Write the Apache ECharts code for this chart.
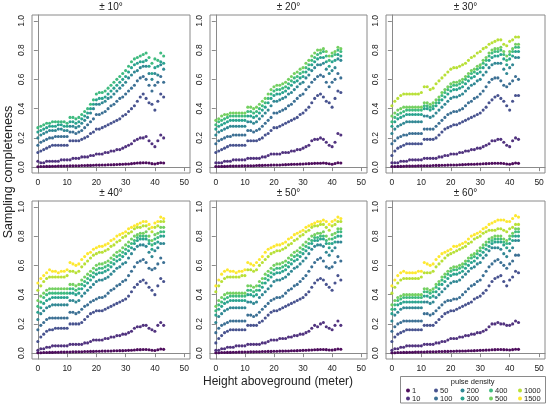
<!DOCTYPE html>
<html><head><meta charset="utf-8">
<script src="https://cdn.jsdelivr.net/npm/echarts@6/dist/echarts.min.js"></script>
<style>html,body{margin:0;padding:0;background:#fff}#c{width:550px;height:408px}</style>
</head><body><div id="c"></div>
<script>
const heights = [0,1,2,3,4,5,6,7,8,9,10,11,12,13,14,15,16,17,18,19,20,21,22,23,24,25,26,27,28,29,30,31,32,33,34,35,36,37,38,39,40,41,42,43];
const densities = ['1','10','50','100','200','300','400','500','1000','1500'];
const densityColors = ['#440154','#482878','#3E4A89','#31688E','#26828E','#1F9E89','#35B779','#6DCD59','#B4DE2C','#FDE725'];
const panelTitles = ['± 10°','± 20°','± 30°','± 40°','± 50°','± 60°'];
const xTicks = [0,10,20,30,40,50];
const yTicks = [0,0.2,0.4,0.6,0.8,1.0];

// sampling completeness in percent, per scan angle and pulse density
const a10_1 = [0.3,0.4,0.4,0.5,0.5,0.6,0.6,0.7,0.7,0.8,0.8,0.9,0.9,1,1,1.1,1.1,1.2,1.2,1.3,1.4,1.4,1.5,1.5,1.6,1.6,1.7,1.8,1.9,2,2.1,2.2,2.4,2.6,2.8,2.9,3,3,2.8,2.4,2.2,2.6,3,2.8];
const a10_10 = [4,3,3,4,4,4,4,4,5,5,5,5,6,6,6,7,7,7,8,8,9,9,9,10,10,11,11,12,12,13,14,15,16,18,19,20,20,21,18,16,14,18,22,20];
const a10_50 = [10,11,12,13,14,15,15,15,15,15,15,18,18,18,18,19,20,21,23,24,26,26,27,28,29,30,31,32,33,35,36,38,40,42,45,48,50,47,44,43,39,45,50,48];
const a10_100 = [15,17,18,19,20,20,21,21,21,21,21,24,24,23,24,25,27,29,31,33,36,36,37,38,40,42,43,45,47,48,50,52,54,56,59,61,62,60,56,52,56,58,62,58];
const a10_200 = [20,22,23,24,25,25,25,26,26,25,25,28,28,27,28,30,32,34,37,40,43,43,44,45,47,48,50,52,54,56,58,61,63,65,66,68,69,69,64,60,64,63,70,67];
const a10_300 = [24,25,26,27,28,28,28,29,29,28,28,31,31,30,31,33,35,37,40,43,46,47,47,48,50,52,54,56,58,60,62,65,68,70,71,72,72,73,69,64,68,69,72,71];
const a10_400 = [27,28,29,30,30,31,31,31,31,31,30,34,34,33,34,36,38,40,43,46,50,51,51,52,54,56,58,60,62,64,66,69,72,74,75,76,77,78,75,71,74,73,78,76];

const a20_1 = [0.4,0.4,0.5,0.5,0.6,0.7,0.7,0.8,0.8,0.9,0.9,1,1,1,1.1,1.2,1.2,1.3,1.3,1.4,1.5,1.5,1.5,1.6,1.7,1.8,1.9,2,2,2.1,2.2,2.3,2.4,2.5,2.6,2.7,2.7,2.8,2.6,2.3,2,2.5,3,2.8];
const a20_10 = [3,3,3,4,4,4,5,5,5,5,5,6,6,6,6,6,7,7,8,9,9,9,9,10,10,10,11,11,12,12,13,14,15,18,19,19,20,19,17,15,14,17,23,22];
const a20_50 = [10,11,12,13,14,15,15,15,15,15,15,18,18,18,18,19,20,22,23,25,27,27,28,29,30,31,32,33,34,36,37,39,41,44,47,49,50,48,45,44,41,47,52,51];
const a20_100 = [16,18,19,20,21,21,22,22,22,22,22,25,25,24,25,26,28,30,32,34,37,37,38,39,40,42,43,45,47,49,50,53,55,58,60,62,63,62,58,55,58,60,64,61];
const a20_200 = [22,24,25,26,27,28,28,28,28,28,28,31,31,30,31,33,35,37,39,42,45,45,46,47,48,50,51,53,55,57,58,61,63,66,68,70,70,71,67,64,66,68,74,73];
const a20_300 = [26,28,29,30,31,32,32,32,32,32,32,35,35,34,35,37,39,41,44,47,49,50,50,51,52,54,56,58,59,61,62,65,67,70,72,74,75,75,72,69,72,73,77,76];
const a20_400 = [29,31,32,33,34,35,35,35,35,35,35,38,38,37,38,40,42,44,47,50,52,53,53,54,55,57,59,61,62,64,65,68,70,73,75,77,78,79,76,73,76,77,80,79];
const a20_500 = [32,33,35,36,36,37,37,37,37,37,37,41,41,40,41,43,45,47,50,53,55,56,56,57,58,60,62,64,65,67,68,71,73,76,78,80,80,81,79,76,78,79,82,81];

const a30_1 = [0.4,0.4,0.5,0.5,0.6,0.7,0.7,0.8,0.8,0.9,0.9,1,1,1,1.1,1.2,1.2,1.3,1.3,1.4,1.5,1.5,1.5,1.6,1.7,1.8,1.9,2,2,2.1,2.2,2.3,2.4,2.5,2.6,2.7,2.7,2.7,2.5,2.2,2,2.4,2.8,2.6];
const a30_10 = [3,3,3,4,4,4,5,5,5,5,5,6,6,6,6,6,7,7,8,8,9,9,9,10,10,11,11,12,12,13,13,14,15,16,18,18,19,19,17,15,14,18,20,19];
const a30_50 = [8,11,13,14,15,16,16,16,16,16,16,19,19,19,19,20,22,24,26,27,28,29,29,30,31,32,33,34,35,36,37,39,41,44,46,48,49,47,45,42,39,45,49,49];
const a30_100 = [16,18,20,21,22,22,23,23,23,23,23,26,26,26,26,28,30,32,34,36,37,38,38,39,40,42,44,45,47,48,50,52,55,58,60,61,61,59,56,55,57,59,62,60];
const a30_200 = [23,26,28,29,30,31,31,31,31,31,31,35,35,34,35,37,39,41,43,45,47,48,48,49,50,52,54,56,57,59,60,63,65,68,70,71,71,71,67,64,68,70,75,75];
const a30_300 = [28,31,33,34,35,36,36,36,36,36,36,40,40,39,40,42,44,46,48,50,52,53,53,54,55,57,59,61,62,64,65,68,70,73,75,76,76,77,74,70,74,76,79,79];
const a30_400 = [31,34,36,37,38,39,39,39,39,39,39,42,42,41,42,44,46,49,51,53,55,56,56,57,58,60,62,64,65,67,68,71,73,76,78,79,79,80,77,73,77,79,82,82];
const a30_500 = [35,37,39,40,41,41,41,41,41,41,41,44,44,43,44,46,48,51,53,55,57,58,58,59,60,62,64,66,67,69,70,73,75,78,80,81,81,82,79,76,79,81,84,84];
const a30_1000 = [42,45,47,49,50,50,50,50,50,50,51,55,55,53,54,57,59,61,63,65,67,68,68,69,70,71,73,75,76,78,79,81,82,84,85,86,87,87,84,83,86,87,89,89];

const a40_1 = [0.3,0.3,0.4,0.4,0.5,0.5,0.6,0.6,0.7,0.7,0.8,0.8,0.9,0.9,1,1,1.1,1.1,1.2,1.2,1.3,1.3,1.4,1.4,1.5,1.5,1.6,1.6,1.7,1.7,1.8,1.9,2,2.2,2.4,2.4,2.5,2.5,2.3,2,1.8,2.3,2.8,2.6];
const a40_10 = [2,3,3,4,4,5,5,5,5,5,5,6,6,6,6,6,7,7,8,9,9,9,9,10,10,11,11,12,12,13,13,14,15,17,18,18,19,19,17,16,15,19,21,19];
const a40_50 = [8,11,13,15,16,16,17,17,17,17,17,20,20,20,20,21,23,25,27,28,29,29,29,30,31,32,33,34,35,36,37,39,42,45,47,49,50,48,45,43,40,46,51,49];
const a40_100 = [16,19,21,23,24,24,24,24,24,24,24,28,28,27,28,30,32,33,35,36,37,38,38,39,41,43,44,46,47,49,50,53,56,59,62,63,64,62,58,57,58,61,65,62];
const a40_200 = [23,27,29,31,32,33,33,33,33,33,33,36,36,35,36,39,41,43,45,47,49,50,50,51,52,54,56,58,59,61,62,65,68,71,73,74,74,73,69,66,70,72,75,75];
const a40_300 = [28,31,34,36,37,38,38,38,38,38,38,41,41,40,41,44,46,48,50,52,54,55,55,56,57,59,61,63,64,66,68,70,72,75,77,78,78,78,75,71,75,76,80,80];
const a40_400 = [32,35,38,40,41,41,41,41,41,41,41,44,44,43,44,47,49,51,53,55,57,58,58,59,60,62,64,66,67,69,71,73,75,77,79,80,80,80,77,74,78,79,83,83];
const a40_500 = [36,39,41,43,44,44,44,44,44,44,44,47,47,46,47,50,52,54,56,58,60,61,61,62,63,65,67,69,70,72,74,76,78,80,81,82,82,83,80,77,81,82,86,86];
const a40_1000 = [43,46,49,51,52,52,52,52,52,52,53,56,56,55,56,59,61,63,65,67,68,69,69,70,71,73,74,76,77,79,80,82,83,85,86,86,87,87,85,83,86,87,90,90];
const a40_1500 = [48,51,53,55,57,56,56,55,56,56,57,62,61,60,61,64,66,68,69,71,72,73,73,74,75,77,78,80,81,82,83,85,86,87,88,89,90,90,88,86,89,90,93,92];

const a50_1 = [0.3,0.3,0.4,0.4,0.5,0.5,0.6,0.6,0.7,0.7,0.8,0.8,0.9,0.9,1,1,1.1,1.1,1.2,1.2,1.3,1.3,1.4,1.4,1.5,1.5,1.6,1.6,1.7,1.8,1.9,2,2.1,2.2,2.3,2.4,2.5,2.5,2.4,2.2,2.1,2.4,2.8,2.7];
const a50_10 = [2,2,3,3,4,4,4,5,5,5,5,6,6,6,6,6,7,7,8,9,9,9,10,10,10,11,11,12,12,13,13,14,15,17,19,18,20,21,18,17,16,19,22,19];
const a50_50 = [7,10,12,14,15,16,16,16,16,16,16,19,19,19,19,21,22,24,26,28,29,29,30,31,32,33,34,35,36,37,38,40,42,45,48,50,51,50,47,45,43,48,53,50];
const a50_100 = [14,17,19,20,21,22,22,22,22,22,22,26,26,25,26,28,30,32,34,36,37,38,38,39,41,43,44,46,47,49,51,53,56,59,62,64,65,63,59,58,59,62,66,63];
const a50_200 = [21,25,27,29,30,31,31,31,31,31,31,35,35,34,35,38,40,42,44,46,49,50,50,51,52,54,56,58,59,61,63,65,68,71,73,74,74,73,69,67,70,72,76,76];
const a50_300 = [26,30,32,34,35,36,36,36,36,36,36,40,40,39,40,43,45,48,50,52,54,55,55,56,57,59,61,63,64,66,68,70,72,75,77,77,78,78,75,72,75,76,80,80];
const a50_400 = [29,33,35,37,38,39,39,39,39,39,39,43,43,42,43,46,48,51,53,55,57,58,58,59,60,62,64,66,67,69,71,73,75,77,79,79,80,80,77,75,78,79,83,83];
const a50_500 = [32,36,38,40,41,41,41,41,41,41,41,46,46,45,46,49,51,54,56,58,60,61,61,62,63,65,67,69,70,72,74,76,78,80,81,82,82,83,80,78,81,82,85,85];
const a50_1000 = [42,46,49,51,52,52,52,52,52,53,53,57,57,56,57,60,62,64,66,68,69,70,70,71,72,74,75,77,78,80,81,83,84,86,87,87,88,88,86,84,87,88,90,90];
const a50_1500 = [46,50,54,56,57,56,56,55,56,56,57,62,61,60,62,64,66,69,71,72,73,74,74,75,76,78,79,81,82,83,84,86,87,88,89,90,90,91,90,88,90,91,93,92];

const a60_1 = [0.3,0.3,0.4,0.4,0.5,0.5,0.6,0.6,0.7,0.7,0.8,0.8,0.9,0.9,1,1,1.1,1.1,1.2,1.2,1.3,1.3,1.4,1.4,1.5,1.5,1.6,1.6,1.7,1.8,1.9,2,2.1,2.2,2.3,2.4,2.5,2.5,2.4,2.3,2.2,2.4,2.7,2.6];
const a60_10 = [2,3,3,4,4,5,5,5,5,5,5,6,6,6,6,7,7,8,8,9,10,10,10,11,11,12,12,13,13,14,14,15,16,18,20,20,21,20,20,19,19,20,22,21];
const a60_50 = [8,11,13,14,15,16,16,16,16,16,16,19,19,19,19,21,23,25,27,28,29,29,30,31,32,33,34,35,37,38,39,41,43,46,49,51,52,53,49,46,50,52,56,55];
const a60_100 = [15,18,20,21,22,22,22,22,22,22,22,27,27,26,27,29,31,33,35,36,36,37,37,38,40,42,44,46,47,49,50,53,56,59,61,63,64,62,60,58,61,63,67,67];
const a60_200 = [22,26,28,30,31,31,31,31,31,31,31,35,35,34,35,38,40,42,44,46,48,49,49,50,52,54,56,58,59,61,62,65,67,70,72,72,72,71,68,66,70,72,77,77];
const a60_300 = [27,30,33,34,35,35,35,35,35,35,35,39,39,38,39,42,44,47,49,51,53,54,54,55,56,58,60,62,63,65,67,69,71,73,75,76,76,76,74,72,75,77,80,80];
const a60_400 = [30,33,36,37,38,38,38,38,38,38,38,42,42,41,42,45,47,50,52,54,56,57,57,58,59,61,63,65,66,68,70,72,74,76,77,78,78,78,76,75,78,80,83,83];
const a60_500 = [33,36,38,39,40,40,40,40,40,40,40,44,44,43,44,47,49,52,54,56,58,59,59,60,61,63,65,67,68,70,72,74,76,78,79,80,80,80,78,77,80,82,85,85];
const a60_1000 = [41,45,48,50,51,51,51,51,51,51,52,55,55,55,56,59,61,63,65,67,68,69,70,71,72,73,75,76,78,79,80,82,83,84,84,84,85,85,84,83,85,86,88,88];
const a60_1500 = [46,50,53,55,56,55,55,55,55,56,56,62,61,60,61,64,66,68,69,70,71,73,73,74,75,76,78,80,81,82,83,85,86,88,89,90,91,91,91,90,90,92,94,93];

const panels = [
  [a10_1,a10_10,a10_50,a10_100,a10_200,a10_300,a10_400],
  [a20_1,a20_10,a20_50,a20_100,a20_200,a20_300,a20_400,a20_500],
  [a30_1,a30_10,a30_50,a30_100,a30_200,a30_300,a30_400,a30_500,a30_1000],
  [a40_1,a40_10,a40_50,a40_100,a40_200,a40_300,a40_400,a40_500,a40_1000,a40_1500],
  [a50_1,a50_10,a50_50,a50_100,a50_200,a50_300,a50_400,a50_500,a50_1000,a50_1500],
  [a60_1,a60_10,a60_50,a60_100,a60_200,a60_300,a60_400,a60_500,a60_1000,a60_1500]
];

// layout
const colLeft = [32, 210, 386];
const colWidth = [158, 157, 159];
const rowTop = [15, 201];
const boxH = 158;
const FONT = '"Liberation Sans", Arial, sans-serif';
const grids = [], xAxes = [], yAxes = [], titles = [], series = [];
for (let p = 0; p < 6; p++) {
  const c = p % 3, r = Math.floor(p / 3);
  grids.push({left: colLeft[c], top: rowTop[r], width: colWidth[c], height: boxH, show: true, borderColor: '#8a8a8a', borderWidth: 1, backgroundColor: '#fff'});
  xAxes.push({gridIndex: p, type: 'value', min: -2, max: 52,
    axisLine: {show: true, lineStyle: {color: '#8a8a8a'}},
    splitLine: {show: false},
    axisTick: {show: true, customValues: xTicks, length: 4, lineStyle: {color: '#8a8a8a'}},
    axisLabel: {customValues: xTicks, fontSize: 8.5, margin: 5, color: '#222', fontFamily: FONT}});
  yAxes.push({gridIndex: p, type: 'value', min: -0.04, max: 1.04,
    axisLine: {show: true, lineStyle: {color: '#8a8a8a'}},
    splitLine: {show: false},
    axisTick: {show: true, customValues: yTicks, length: 4, lineStyle: {color: '#8a8a8a'}},
    axisLabel: {customValues: yTicks, rotate: 90, fontSize: 8.5, margin: 6, color: '#222', fontFamily: FONT, formatter: v => v.toFixed(1)}});
  titles.push({text: panelTitles[p], left: colLeft[c] + colWidth[c] / 2, top: rowTop[r] - 13, textAlign: 'center', padding: 0,
    textStyle: {fontSize: 10, fontWeight: 'normal', color: '#222', fontFamily: FONT}});
  panels[p].forEach((vals, k) => {
    series.push({type: 'scatter', name: densities[k], xAxisIndex: p, yAxisIndex: p,
      symbolSize: 3.1, itemStyle: {color: densityColors[k], opacity: 0.95},
      silent: true, data: heights.map((h, i) => [h, vals[i] / 100])});
  });
}

const legendCols = [[0,1],[2,3],[4,5],[6,7],[8,9]];
const legendLeft = [406, 434, 460.5, 489, 518];
const legends = legendCols.map((col, i) => ({
  left: legendLeft[i], top: 386.5, orient: 'vertical', padding: 0, itemGap: 0,
  itemWidth: 4, itemHeight: 4.5, icon: 'circle', selectedMode: false,
  data: col.map(k => densities[k]),
  textStyle: {fontSize: 7.5, lineHeight: 6.8, color: '#222', fontFamily: FONT, padding: [0, 0, 0, -3]}
}));

const chart = echarts.init(document.getElementById('c'), null, {renderer: 'canvas'});
chart.setOption({
  animation: false,
  backgroundColor: '#fff',
  title: titles,
  grid: grids,
  xAxis: xAxes,
  yAxis: yAxes,
  legend: legends,
  series: series,
  graphic: [
    {type: 'text', x: 9, y: 172, rotation: Math.PI / 2,
      style: {text: 'Sampling completeness', fontSize: 12.5, fill: '#222', fontFamily: FONT, textAlign: 'center', textVerticalAlign: 'middle'}},
    {type: 'text', x: 278, y: 382,
      style: {text: 'Height aboveground (meter)', fontSize: 12, fill: '#222', fontFamily: FONT, textAlign: 'center', textVerticalAlign: 'middle'}},
    {type: 'rect', shape: {x: 400.5, y: 376.5, width: 145, height: 26.5}, z: -10,
      style: {fill: 'transparent', stroke: '#8a8a8a', lineWidth: 1}},
    {type: 'text', x: 472.7, y: 381.7,
      style: {text: 'pulse density', fontSize: 7.5, fill: '#222', fontFamily: FONT, textAlign: 'center', textVerticalAlign: 'middle'}}
  ]
});
</script></body></html>
